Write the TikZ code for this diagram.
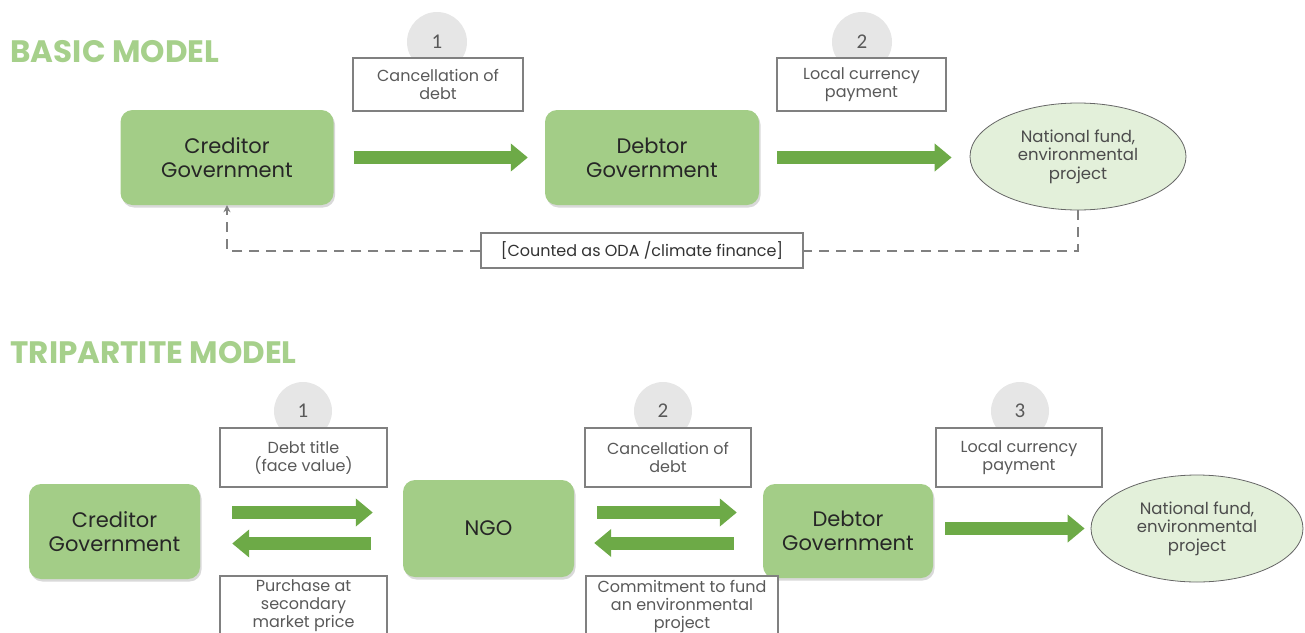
\documentclass[tikz,border=0pt]{standalone}
\usepackage{fontspec}
\setmainfont{Poppins}
\newfontfamily\numfont{Carlito}
\usetikzlibrary{arrows.meta,shapes.geometric,shadows}

\definecolor{boxgreen}{HTML}{A3CD87}
\definecolor{arrowgreen}{HTML}{6DAA47}
\definecolor{titlegreen}{HTML}{A6D08B}
\definecolor{fundgreen}{HTML}{E3F0DA}
\definecolor{labgray}{HTML}{808080}
\definecolor{numgray}{HTML}{E6E6E6}

\begin{document}
\begin{tikzpicture}[x=1pt,y=-1pt,
  title/.style={anchor=base west, text=titlegreen, font=\fontsize{31}{34}\selectfont\bfseries},
  govbox/.style={rectangle, rounded corners=12pt, fill=boxgreen, text=black!85,
    align=center, inner sep=0pt, font=\fontsize{21}{24}\selectfont,
    drop shadow={shadow xshift=1.5pt, shadow yshift=-2.5pt, opacity=.3}},
  fundell/.style={ellipse, fill=fundgreen, draw=black!60, line width=0.8pt,
    align=center, inner sep=0pt, text=black!70, font=\fontsize{16.5}{18.5}\selectfont},
  labelbox/.style={rectangle, fill=white, draw=labgray, line width=1.2pt, inner sep=0pt,
    align=center, text=black!65, font=\fontsize{16}{18}\selectfont},
  numdot/.style={circle, fill=numgray, minimum size=60pt, inner sep=0pt,
    text=black!65, font=\numfont\fontsize{21}{24}\selectfont},
  flow/.style={draw=arrowgreen, line width=13pt, -{Triangle[length=17pt,width=27pt]}},
  dashline/.style={draw=labgray, line width=2pt, dash pattern=on 10pt off 7pt}]
  \useasboundingbox (0,0) rectangle (1305,632);
  \clip (0,0) rectangle (1305,632);

  % basic model
  \node[title] (titleA) at (7,62) {BASIC MODEL};
  \node[govbox, minimum width=213pt, minimum height=95pt] (creditorA) at (227,157.5) {Creditor\\Government};
  \node[govbox, minimum width=214pt, minimum height=95pt] (debtorA) at (652,157.5) {Debtor\\Government};
  \node[fundell, minimum width=216pt, minimum height=107pt] (fundA) at (1078,156.5) {National fund,\\environmental\\project};
  % step numbers and labels
  \node[numdot] (numA1) at (437,42) {1};
  \node[numdot] (numA2) at (862,42) {2};
  \node[labelbox, minimum width=170pt, minimum height=53pt] (labA1) at (438,84.5) {Cancellation of\\debt};
  \node[labelbox, minimum width=169pt, minimum height=53pt] (labA2) at (861.5,84.5) {Local currency\\payment};
  % flows
  \draw[flow, shorten <=20pt, shorten >=17pt] (creditorA.east) -- (debtorA.west);
  \draw[flow, shorten <=18pt, shorten >=18pt] (debtorA.east) -- (debtorA.east -| fundA.west);
  % feedback line
  \node[labelbox, minimum width=322pt, minimum height=35pt, text=black!80] (oda) at (642,250.5) {[Counted as ODA /climate finance]};
  \draw[dashline] (fundA.south) |- (oda.east);
  \draw[dashline, -{Stealth[length=7pt,width=7pt]}] (oda.west) -| (creditorA.south);

  % tripartite model
  \node[title] (titleB) at (7,363) {TRIPARTITE MODEL};
  \node[govbox, minimum width=171pt, minimum height=95pt] (creditorB) at (114.5,531.5) {Creditor\\Government};
  \node[govbox, minimum width=171pt, minimum height=97pt] (ngoB) at (488.5,528.5) {NGO};
  \node[govbox, minimum width=170pt, minimum height=94pt] (debtorB) at (848,531) {Debtor\\Government};
  \node[fundell, minimum width=212pt, minimum height=107pt] (fundB) at (1197,528.5) {National fund,\\environmental\\project};
  % step numbers and labels
  \node[numdot, minimum size=58pt] (numB1) at (303,411) {1};
  \node[numdot, minimum size=58pt] (numB2) at (663,411) {2};
  \node[numdot, minimum size=58pt] (numB3) at (1020,411) {3};
  \node[labelbox, minimum width=167pt, minimum height=59pt] (labB1) at (303.5,457.5) {Debt title\\(face value)};
  \node[labelbox, minimum width=166pt, minimum height=59pt] (labB2) at (668,457.5) {Cancellation of\\debt};
  \node[labelbox, minimum width=166pt, minimum height=59pt] (labB3) at (1019,457.5) {Local currency\\payment};
  % flows
  \draw[flow, shorten <=32pt, shorten >=30pt] ([yshift=19pt]creditorB.east) -- ([yshift=19pt]creditorB.east -| ngoB.west);
  \draw[flow, shorten <=32pt, shorten >=32pt] ([yshift=-15pt]ngoB.west) -- ([yshift=-15pt]ngoB.west -| creditorB.east);
  \draw[flow, shorten <=23pt, shorten >=26pt] ([yshift=16pt]ngoB.east) -- ([yshift=16pt]ngoB.east -| debtorB.west);
  \draw[flow, shorten <=29pt, shorten >=20pt] ([yshift=-12pt]debtorB.west) -- ([yshift=-12pt]debtorB.west -| ngoB.east);
  \draw[flow, shorten <=12pt, shorten >=6pt] (fundB.west -| debtorB.east) -- (fundB.west);
  % lower labels
  \node[labelbox, minimum width=167pt, minimum height=60pt] (labB4) at (303.5,606) {Purchase at\\secondary\\market price};
  \node[labelbox, minimum width=192pt, minimum height=60pt] (labB5) at (682,606) {Commitment to fund\\an environmental\\project};
\end{tikzpicture}
\end{document}
